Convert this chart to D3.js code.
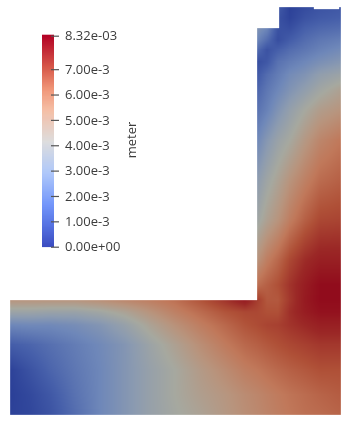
<!DOCTYPE html>
<html><head><meta charset="utf-8">
<script src="https://cdn.jsdelivr.net/npm/d3@7"></script>
<style>
html,body{margin:0;padding:0;background:#fff;width:356px;height:423px;overflow:hidden}
#wrap{position:relative;width:356px;height:423px;filter:blur(0.3px)}
canvas,svg{position:absolute;left:0;top:0}
text{font-family:"Open Sans",sans-serif;fill:#3c3c3c}
</style></head><body>
<div id="wrap"><canvas id="field" width="356" height="423"></canvas><svg id="ui" width="356" height="423"></svg></div>
<script>
// Model stations (model units, origin lower-left of the part)
const xStations = [0,20,40,65,90,115,140,165,190,215,235,247,257,268,280,295,310,331];
const yStations = [408,397,387,375,365,353,340,325,305,275,235,195,155,130,115,103,90,70,45,20,0];
// Upper leg: columns 11..17 only (fraction of the maximum displacement)
const upperRows = [
 [null,null,.14,.03,.07,.10,.12],
 [null,null,.10,.04,.10,.13,.15],
 [.37,.30,.10,.08,.15,.18,.20],
 [.30,.20,.08,.14,.20,.24,.27],
 [.20,.10,.15,.20,.24,.28,.32],
 [.08,.12,.22,.26,.30,.34,.38],
 [.12,.20,.26,.32,.36,.42,.46],
 [.17,.24,.30,.36,.42,.48,.54],
 [.22,.28,.36,.43,.50,.56,.60],
 [.30,.38,.45,.50,.58,.65,.70],
 [.40,.47,.53,.60,.67,.73,.76],
 [.47,.54,.60,.68,.76,.82,.83],
 [.60,.68,.74,.82,.89,.93,.93],
 [.72,.76,.80,.87,.94,1,1]
];
// Lower leg: all columns
const lowerRows = [
 [.60,.60,.60,.60,.62,.65,.68,.72,.79,.87,.95,.85,.78,.78,.86,.95,1,1],
 [.46,.46,.45,.45,.48,.53,.60,.67,.73,.79,.82,.82,.80,.80,.88,.94,.98,.98],
 [.30,.31,.31,.33,.37,.44,.53,.61,.68,.74,.79,.81,.83,.84,.87,.90,.93,.93],
 [.14,.17,.21,.26,.31,.37,.46,.54,.62,.69,.74,.76,.78,.80,.82,.84,.86,.86],
 [.03,.10,.17,.24,.30,.37,.44,.50,.57,.63,.68,.70,.72,.74,.76,.78,.80,.80],
 [.02,.06,.12,.22,.30,.37,.44,.50,.55,.59,.63,.65,.67,.69,.71,.73,.75,.77],
 [.03,.05,.10,.20,.30,.37,.44,.49,.53,.58,.62,.64,.66,.68,.70,.72,.73,.75]
];
const outline = [[0,0],[331,0],[331,408],[329,408],[329,406],[304,406],[304,408],[269,408],[269,387],[247,387],[247,115],[0,115]];
// Scene colours after lighting
const sceneStops = [0,.15,.3,.4,.5,.6,.7,.8,.9,1];
const sceneColors = ["#263a94","#465faa","#6e87b9","#8c9bb0","#a6a89f","#b8947d","#c0785a","#af5037","#9b2826","#910c1c"];
// Colour bar
const barStops = [0,.1,.2,.35,.5,.65,.75,.85,1];
const barColors = ["#3b4cc0","#5571e1","#7396fa","#afc8fa","#dddddd","#f5bea5","#f09678","#d75a4b","#b40426"];
const tickValues = [0,1,2,3,4,5,6,7,8.32];
const tickLabels = ["0.00e+00","1.00e-3","2.00e-3","3.00e-3","4.00e-3","5.00e-3","6.00e-3","7.00e-3","8.32e-03"];
const unitLabel = "meter";

const W=356,H=423;
const x=d3.scaleLinear().domain([0,331]).range([10,341]);
const y=d3.scaleLinear().domain([0,408]).range([415,7]);
const scene=d3.scaleLinear().domain(sceneStops).range(sceneColors).interpolate(d3.interpolateRgb);
const matrix=[...upperRows.map(r=>Array(11).fill(null).concat(r)),...lowerRows];

// field: each mesh cell shaded from its four corner values, as the renderer does
const off=document.createElement("canvas");off.width=W;off.height=H;
const oc=off.getContext("2d");
const img=oc.createImageData(W,H);
for(let r=0;r<yStations.length-1;r++)for(let c=0;c<xStations.length-1;c++){
  const a=matrix[r][c],b=matrix[r][c+1],d=matrix[r+1][c],e=matrix[r+1][c+1];
  if(a==null||b==null||d==null||e==null)continue;
  const x0=x(xStations[c]),x1=x(xStations[c+1]),y0=y(yStations[r]),y1=y(yStations[r+1]);
  for(let py=Math.floor(y0);py<=Math.ceil(y1);py++)for(let px=Math.floor(x0);px<=Math.ceil(x1);px++){
    if(px<0||py<0||px>=W||py>=H)continue;
    const u=Math.max(0,Math.min(1,(px+.5-x0)/(x1-x0))),v=Math.max(0,Math.min(1,(py+.5-y0)/(y1-y0)));
    const t=(a*(1-u)+b*u)*(1-v)+(d*(1-u)+e*u)*v;
    const col=d3.rgb(scene(t));const i=(py*W+px)*4;
    img.data[i]=col.r;img.data[i+1]=col.g;img.data[i+2]=col.b;img.data[i+3]=255;
  }
}
oc.putImageData(img,0,0);
const ctx=document.getElementById("field").getContext("2d");
const tracePath=()=>{ctx.beginPath();
 outline.forEach((p,i)=>i?ctx.lineTo(x(p[0]),y(p[1])):ctx.moveTo(x(p[0]),y(p[1])));
 ctx.closePath();};
ctx.save();tracePath();ctx.clip();ctx.drawImage(off,0,0);ctx.restore();
// faint light rim of the rendered edge
tracePath();ctx.strokeStyle="rgba(255,255,255,.3)";ctx.lineWidth=1;ctx.stroke();

// colour bar
const svg=d3.select("#ui");
const barScale=d3.scaleLinear().domain([0,8.32]).range([246.7,35.7]);
const barColor=d3.scaleLinear().domain(barStops.map(s=>s*8.32)).range(barColors).interpolate(d3.interpolateRgb);
svg.append("g").selectAll("rect").data(d3.range(0,212)).join("rect")
  .attr("x",42).attr("width",12)
  .attr("y",i=>246.7-i-1).attr("height",1.4)
  .attr("fill",i=>barColor(barScale.invert(246.7-i-.5)));
const axis=d3.axisRight(barScale).tickValues(tickValues).tickSize(8).tickPadding(6)
  .tickFormat((d,i)=>tickLabels[i]);
const ag=svg.append("g").attr("transform","translate(51,0)").call(axis);
ag.select(".domain").remove();
ag.selectAll("line").attr("stroke","#555").attr("stroke-width",1.2);
ag.selectAll("text").attr("font-size",13).attr("font-family",null);
svg.append("text").attr("transform","translate(136,140) rotate(-90)")
  .attr("text-anchor","middle").attr("font-size",13).text(unitLabel);
</script></body></html>
